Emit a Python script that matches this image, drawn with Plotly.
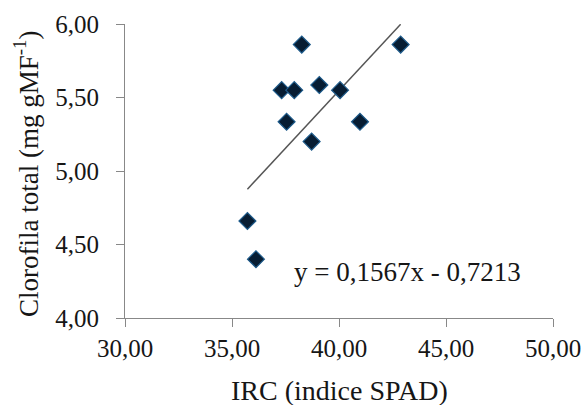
import plotly.graph_objects as go

irc = [38.26, 42.88, 37.32, 37.91, 39.08, 40.05, 37.55, 40.98, 38.72, 35.72, 36.12]
clorofila = [5.86, 5.86, 5.55, 5.55, 5.585, 5.55, 5.335, 5.335, 5.20, 4.66, 4.40]
slope = 0.1567
intercept = -0.7213
x_ticks = [30, 35, 40, 45, 50]
x_tick_labels = ["30,00", "35,00", "40,00", "45,00", "50,00"]
y_ticks = [4.0, 4.5, 5.0, 5.5, 6.0]
y_tick_labels = ["4,00", "4,50", "5,00", "5,50", "6,00"]

x_fit = [min(irc), max(irc)]
y_fit = [slope * v + intercept for v in x_fit]

FONT = "Liberation Serif, Times New Roman, serif"
TXT = "#161616"

fig = go.Figure()
fig.add_trace(go.Scatter(x=x_fit, y=y_fit, mode="lines",
                         line=dict(color="#555555", width=1.5), showlegend=False))
fig.add_trace(go.Scatter(x=irc, y=clorofila, mode="markers",
                         marker=dict(symbol="diamond", size=13, color="#071d33",
                                     line=dict(color="#1d5a8a", width=1.2)),
                         showlegend=False))

fig.add_annotation(x=43.18, y=4.313, xref="x", yref="y",
                   text="y = 0,1567x - 0,7213", showarrow=False,
                   font=dict(family=FONT, size=27, color=TXT))

# axis titles
fig.add_annotation(x=0.502, y=-0.245, xref="paper", yref="paper",
                   text="IRC (indice SPAD)", showarrow=False,
                   xanchor="center", yanchor="middle",
                   font=dict(family=FONT, size=28, color=TXT))
fig.add_annotation(x=-0.231, y=0.49, xref="paper", yref="paper",
                   text="Clorofila total (mg gMF<sup>-1</sup>)", showarrow=False,
                   textangle=-90, xanchor="center", yanchor="middle",
                   font=dict(family=FONT, size=27, color=TXT))

fig.update_layout(
    width=587, height=405,
    margin=dict(l=125, r=34, t=24, b=87),
    paper_bgcolor="white", plot_bgcolor="white",
    font=dict(family=FONT, color=TXT),
    xaxis=dict(range=[30, 50], tickvals=x_ticks, ticktext=x_tick_labels,
               showgrid=False, zeroline=False, showline=True, linecolor="#888888",
               linewidth=1, ticks="outside", ticklen=8, tickcolor="#888888",
               automargin=False,
               tickfont=dict(size=25, family=FONT, color=TXT)),
    yaxis=dict(range=[4, 6], tickvals=y_ticks, ticktext=y_tick_labels,
               showgrid=False, zeroline=False, showline=True, linecolor="#888888",
               linewidth=1, ticks="outside", ticklen=8, tickcolor="#888888",
               ticklabelstandoff=12, automargin=False,
               tickfont=dict(size=25, family=FONT, color=TXT)),
)

fig.write_html("out.html")
